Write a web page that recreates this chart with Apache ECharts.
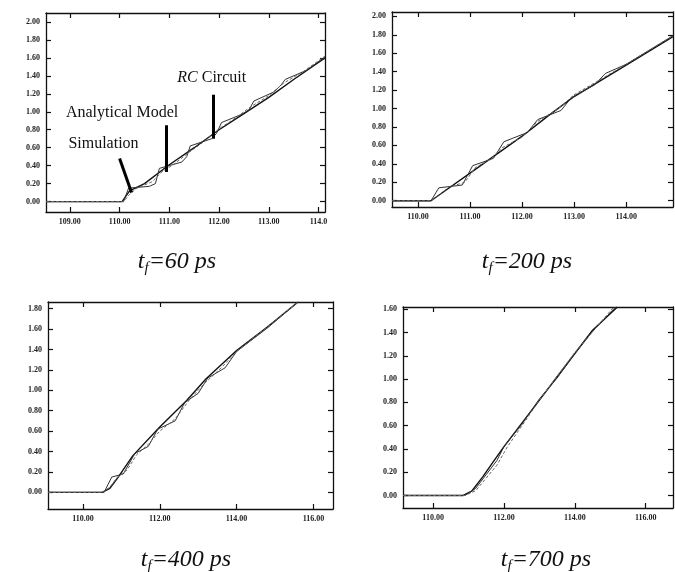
<!DOCTYPE html>
<html>
<head>
<meta charset="utf-8">
<script src="https://cdn.jsdelivr.net/npm/echarts@6/dist/echarts.min.js"></script>
<style>
  html, body { margin: 0; padding: 0; background: #fff; }
  #chart { width: 675px; height: 572px; }
</style>
</head>
<body>
<div id="chart"></div>
<script>
// panel titles (t_f values)
const panelTitles = ['60', '200', '400', '700'];

// tick values and tick labels
const xTicksTop = [109, 110, 111, 112, 113, 114];
const xLabelsP1 = ['109.00', '110.00', '111.00', '112.00', '113.00', '114.0'];
const xTicksP2 = [110, 111, 112, 113, 114];
const xLabelsP2 = ['110.00', '111.00', '112.00', '113.00', '114.00'];
const xTicksBottom = [110, 112, 114, 116];
const xLabelsBottom = ['110.00', '112.00', '114.00', '116.00'];
const yTicks20 = [0, 0.2, 0.4, 0.6, 0.8, 1.0, 1.2, 1.4, 1.6, 1.8, 2.0];
const yTicks18 = [0, 0.2, 0.4, 0.6, 0.8, 1.0, 1.2, 1.4, 1.6, 1.8];
const yTicks16 = [0, 0.2, 0.4, 0.6, 0.8, 1.0, 1.2, 1.4, 1.6];

// tf = 60 ps
const analytical60 = [[108.52, 0], [110.05, 0], [110.2, 0.12], [110.5, 0.2], [111, 0.41], [111.5, 0.6], [112, 0.8], [112.5, 0.98], [113, 1.16], [113.5, 1.36], [114.13, 1.6]];
const rc60 = [[108.52, 0], [110.08, 0], [110.18, 0.15], [110.6, 0.17], [110.72, 0.2], [110.8, 0.37], [111.25, 0.44], [111.35, 0.5], [111.42, 0.62], [111.85, 0.7], [111.95, 0.76], [112.05, 0.88], [112.45, 0.97], [112.6, 1.02], [112.7, 1.12], [113.1, 1.22], [113.25, 1.3], [113.33, 1.36], [113.75, 1.46], [114.13, 1.61]];
const sim60 = [[108.52, 0], [110.08, 0], [110.2, 0.08], [110.35, 0.15], [110.65, 0.22], [110.85, 0.33], [111.1, 0.42], [111.4, 0.55], [111.7, 0.67], [112, 0.81], [112.3, 0.92], [112.65, 1.06], [113, 1.18], [113.3, 1.32], [113.7, 1.45], [114.13, 1.62]];

// tf = 200 ps
const analytical200 = [[109.5, 0], [110.25, 0], [110.5, 0.1], [111, 0.3], [111.5, 0.5], [112, 0.7], [112.5, 0.92], [113, 1.13], [113.5, 1.3], [114, 1.47], [114.9, 1.78]];
const rc200 = [[109.5, 0], [110.25, 0], [110.4, 0.14], [110.85, 0.17], [111.05, 0.38], [111.45, 0.46], [111.65, 0.64], [112.1, 0.74], [112.3, 0.88], [112.75, 0.98], [112.95, 1.12], [113.4, 1.26], [113.6, 1.38], [114, 1.48], [114.9, 1.79]];
const sim200 = [[109.5, 0], [110.25, 0], [110.35, 0.04], [110.6, 0.15], [110.9, 0.2], [111.1, 0.36], [111.4, 0.45], [111.6, 0.57], [112, 0.69], [112.3, 0.86], [112.7, 1.0], [113, 1.15], [113.4, 1.28], [114, 1.48], [114.9, 1.79]];

// tf = 400 ps
const analytical400 = [[109.09, 0], [110.5, 0], [110.7, 0.04], [110.9, 0.14], [111.3, 0.36], [112, 0.64], [112.7, 0.9], [113.2, 1.11], [114, 1.39], [114.8, 1.62], [115.6, 1.865]];
const rc400 = [[109.09, 0], [110.55, 0], [110.75, 0.15], [111.05, 0.18], [111.35, 0.38], [111.7, 0.45], [111.95, 0.62], [112.4, 0.7], [112.65, 0.88], [113.0, 0.97], [113.25, 1.12], [113.7, 1.22], [114, 1.38], [114.8, 1.61], [115.6, 1.865]];
const sim400 = [[109.09, 0], [110.5, 0], [110.7, 0.05], [110.9, 0.15], [111.15, 0.22], [111.4, 0.37], [111.7, 0.47], [112.0, 0.6], [112.4, 0.72], [112.8, 0.92], [113.2, 1.08], [113.6, 1.22], [114, 1.38], [114.8, 1.62], [115.6, 1.865]];

// tf = 700 ps
const analytical700 = [[109.15, 0], [110.85, 0], [111.1, 0.04], [111.4, 0.16], [111.7, 0.29], [112, 0.42], [112.5, 0.62], [113, 0.82], [113.5, 1.02], [114, 1.22], [114.5, 1.42], [115.2, 1.62]];
const rc700 = [[109.15, 0], [110.9, 0], [111.2, 0.06], [111.5, 0.18], [111.8, 0.3], [112, 0.42], [112.5, 0.61], [113, 0.83], [113.5, 1.01], [114, 1.22], [114.5, 1.41], [115.15, 1.62]];
const sim700 = [[109.15, 0], [110.9, 0], [111.2, 0.04], [111.5, 0.15], [111.8, 0.26], [112.1, 0.42], [112.6, 0.64], [113, 0.82], [114, 1.23], [115.1, 1.62]];

// annotation pointers in the first panel: [from, to]
const annotationLines = [
  [[110.0, 0.48], [110.24, 0.10]],
  [[110.94, 0.85], [110.94, 0.33]],
  [[111.89, 1.19], [111.89, 0.70]]
];
const annotationTexts = [
  { name: 'Analytical Model', coord: [108.92, 0.99] },
  { name: 'Simulation', coord: [108.97, 0.64] },
  { name: 'RC Circuit', coord: [111.16, 1.38] }
];

const panels = [
  { grid: { left: 46, top: 13, width: 279, height: 199 }, x: [108.52, 114.13], y: [-0.116, 2.1],
    xt: xTicksTop, xl: xLabelsP1, yt: yTicks20, data: [analytical60, rc60, sim60], title: [177, 262] },
  { grid: { left: 392, top: 12, width: 281, height: 195 }, x: [109.5, 114.9], y: [-0.068, 2.047],
    xt: xTicksP2, xl: xLabelsP2, yt: yTicks20, data: [analytical200, rc200, sim200], title: [527, 262] },
  { grid: { left: 48, top: 302, width: 285, height: 207 }, x: [109.09, 116.51], y: [-0.163, 1.865],
    xt: xTicksBottom, xl: xLabelsBottom, yt: yTicks18, data: [analytical400, rc400, sim400], title: [186, 560] },
  { grid: { left: 403, top: 307, width: 270, height: 201 }, x: [109.15, 116.77], y: [-0.108, 1.62],
    xt: xTicksBottom, xl: xLabelsBottom, yt: yTicks16, data: [analytical700, rc700, sim700], title: [546, 560] }
];

const labelFont = { fontFamily: 'Liberation Serif', fontSize: 8, fontWeight: 'bold', color: '#222' };
const axisLine = { show: true, onZero: false, lineStyle: { color: '#111', width: 1.3 } };

const grids = [], xAxes = [], yAxes = [], series = [], graphics = [];

panels.forEach((p, i) => {
  grids.push(p.grid);
  const tick = vals => ({ show: true, inside: true, length: 5, customValues: vals, lineStyle: { color: '#111', width: 1.2 } });
  xAxes.push({
    gridIndex: i, type: 'value', position: 'bottom', min: p.x[0], max: p.x[1],
    axisLine: axisLine, axisTick: tick(p.xt), splitLine: { show: false },
    axisLabel: Object.assign({ customValues: p.xt, margin: 6, showMaxLabel: true,
      formatter: v => p.xl[p.xt.indexOf(v)] }, labelFont)
  });
  xAxes.push({
    gridIndex: i, type: 'value', position: 'top', min: p.x[0], max: p.x[1],
    axisLine: axisLine, axisTick: tick(p.xt), splitLine: { show: false }, axisLabel: { show: false }
  });
  yAxes.push({
    gridIndex: i, type: 'value', position: 'left', min: p.y[0], max: p.y[1],
    axisLine: axisLine, axisTick: tick(p.yt), splitLine: { show: false },
    axisLabel: Object.assign({ customValues: p.yt, margin: 6, formatter: v => v.toFixed(2) }, labelFont)
  });
  yAxes.push({
    gridIndex: i, type: 'value', position: 'right', min: p.y[0], max: p.y[1],
    axisLine: axisLine, axisTick: tick(p.yt), splitLine: { show: false }, axisLabel: { show: false }
  });

  const styles = [
    { name: 'Analytical Model', lineStyle: { color: '#111', width: 1.4 } },
    { name: 'RC Circuit', lineStyle: { color: '#333', width: 1 } },
    { name: 'Simulation', lineStyle: { color: '#666', width: 1, type: [3, 2] } }
  ];
  styles.forEach((s, k) => {
    series.push({
      type: 'line', name: s.name, xAxisIndex: 2 * i, yAxisIndex: 2 * i,
      data: p.data[k], showSymbol: false, symbol: 'none', lineStyle: s.lineStyle,
      clip: true, silent: true
    });
  });

  graphics.push({
    type: 'text', x: p.title[0], y: p.title[1],
    style: {
      text: '{t|t}{f|f}{n|=' + panelTitles[i] + ' ps}',
      align: 'center', verticalAlign: 'middle',
      rich: {
        t: { fontFamily: 'Liberation Serif', fontStyle: 'italic', fontSize: 24, lineHeight: 30, fill: '#111' },
        f: { fontFamily: 'Liberation Serif', fontStyle: 'italic', fontSize: 15, lineHeight: 12, padding: [12, 0, 0, 0], fill: '#111' },
        n: { fontFamily: 'Liberation Serif', fontStyle: 'italic', fontSize: 24, lineHeight: 30, fill: '#111' }
      }
    }
  });
});

// annotations in the first panel
series.push({
  type: 'line', xAxisIndex: 0, yAxisIndex: 0, data: [], silent: true,
  markLine: {
    symbol: 'none', silent: true, animation: false,
    lineStyle: { color: '#000', width: 3, type: 'solid' },
    label: { show: false },
    data: annotationLines.map(l => [{ coord: l[0] }, { coord: l[1] }])
  },
  markPoint: {
    symbol: 'circle', symbolSize: 0, silent: true, animation: false,
    label: {
      show: true, position: 'right', distance: 0, color: '#111',
      fontFamily: 'Liberation Serif', fontSize: 16,
      formatter: d => d.name === 'RC Circuit' ? '{i|RC} Circuit' : d.name,
      rich: { i: { fontFamily: 'Liberation Serif', fontSize: 16, fontStyle: 'italic', color: '#111' } }
    },
    data: annotationTexts.map(a => ({ name: a.name, coord: a.coord }))
  }
});

const chart = echarts.init(document.getElementById('chart'), null, { renderer: 'canvas' });
chart.setOption({
  animation: false,
  backgroundColor: '#fff',
  grid: grids,
  xAxis: xAxes,
  yAxis: yAxes,
  series: series,
  graphic: graphics
});
</script>
</body>
</html>
